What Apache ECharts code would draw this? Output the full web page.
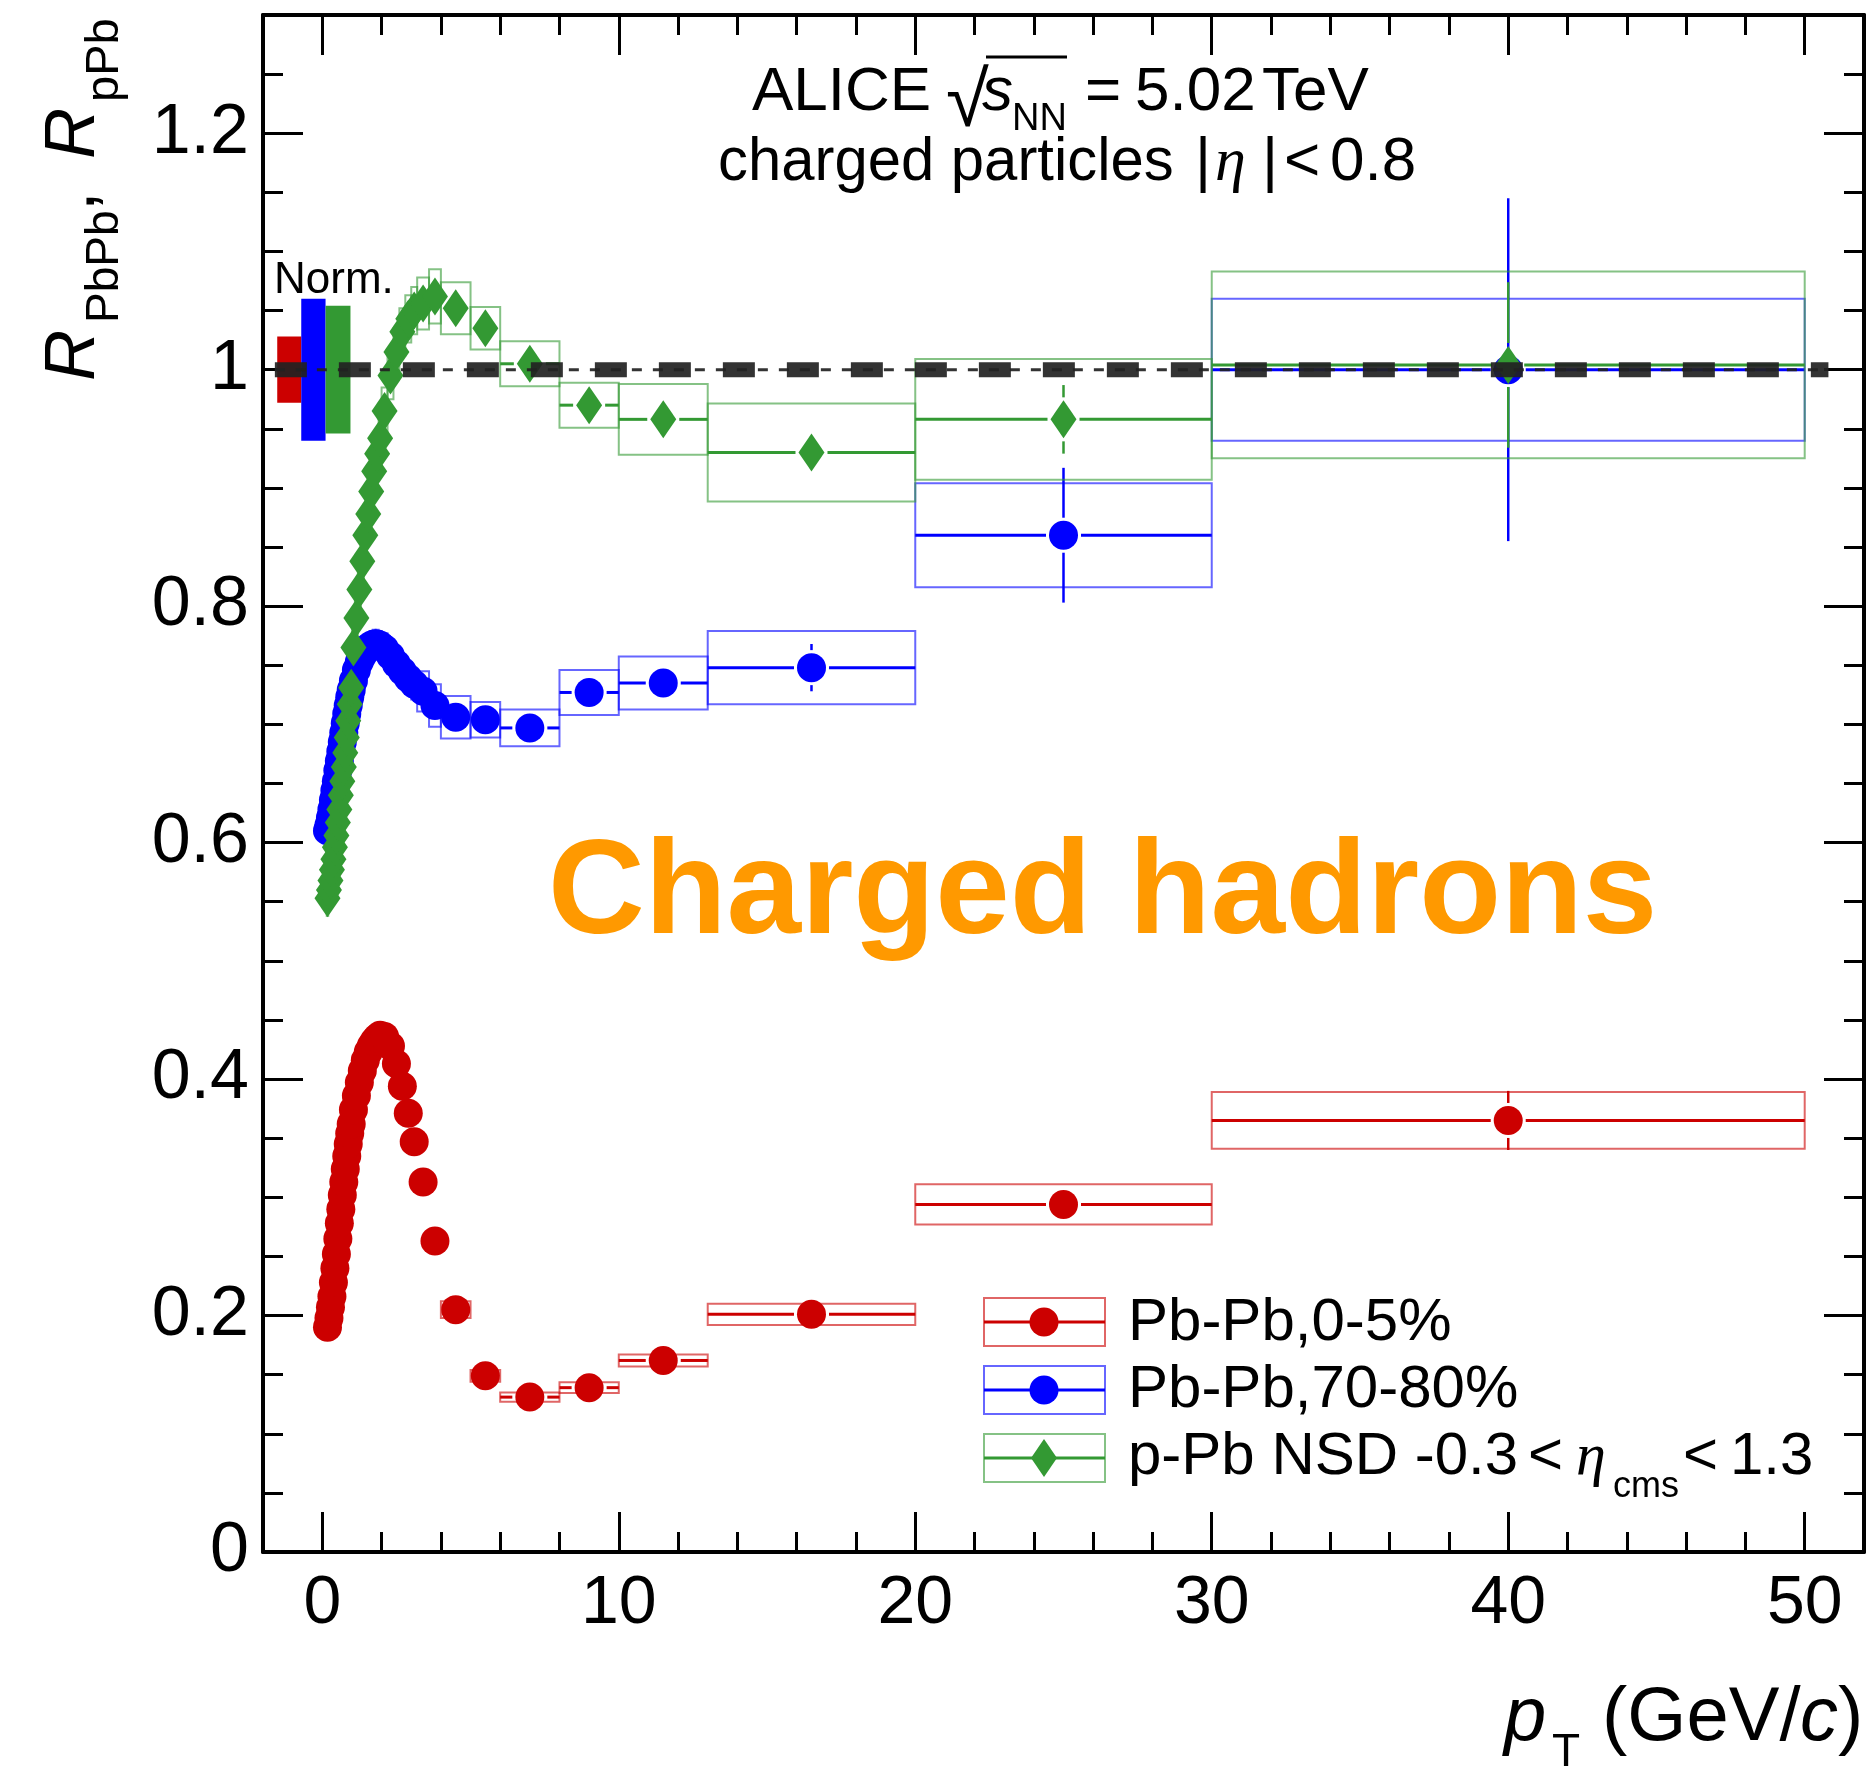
<!DOCTYPE html>
<html><head><meta charset="utf-8">
<script src="https://cdn.jsdelivr.net/npm/echarts@6/dist/echarts.min.js"></script>
<style>html,body{margin:0;padding:0;background:#fff}#c{width:1875px;height:1769px}</style>
</head><body><div id="c"></div>
<script>
// ---------------- DATA ----------------
const binEdges = [0.15,0.2,0.25,0.3,0.35,0.4,0.45,0.5,0.55,0.6,0.65,0.7,0.75,0.8,0.85,0.9,0.95,1.0,
  1.1,1.2,1.3,1.4,1.5,1.6,1.7,1.8,1.9,2.0,2.2,2.4,2.6,2.8,3.0,3.2,3.6,4.0,5.0,6.0,8.0,10,13,20,30,50];

// Pb-Pb 0-5%
const redVal  = [0.190,0.198,0.207,0.216,0.228,0.240,0.252,0.265,0.278,0.290,0.302,0.313,0.324,0.335,0.345,0.354,0.362,
  0.374,0.386,0.397,0.407,0.416,0.423,0.428,0.432,0.435,0.437,
  0.436,0.428,0.413,0.394,0.371,0.347,0.313,0.263,
  0.205,0.149,0.131,0.139,0.162,0.201,0.294,0.365];
const redStat = [0.002,0.002,0.002,0.002,0.002,0.002,0.002,0.002,0.002,0.002,0.002,0.002,0.002,0.002,0.002,0.002,0.002,
  0.002,0.002,0.002,0.002,0.002,0.002,0.002,0.002,0.002,0.002,
  0.002,0.002,0.002,0.002,0.002,0.002,0.002,0.002,
  0.002,0.002,0.002,0.002,0.003,0.004,0.008,0.025];
const redSyst = [0.008,0.008,0.008,0.008,0.008,0.008,0.008,0.008,0.008,0.008,0.008,0.008,0.008,0.008,0.008,0.008,0.008,
  0.009,0.009,0.009,0.009,0.009,0.009,0.009,0.009,0.009,0.009,
  0.010,0.010,0.010,0.010,0.010,0.010,0.009,0.009,
  0.007,0.005,0.004,0.0046,0.005,0.009,0.017,0.024];

// Pb-Pb 70-80%
const blueVal  = [0.610,0.615,0.621,0.628,0.636,0.644,0.652,0.661,0.669,0.677,0.685,0.693,0.701,0.709,0.716,0.723,0.729,
  0.737,0.746,0.753,0.758,0.762,0.765,0.767,0.768,0.768,0.767,
  0.764,0.758,0.751,0.745,0.739,0.734,0.728,0.716,
  0.706,0.704,0.697,0.727,0.735,0.748,0.860,1.000];
const blueStat = [0.003,0.003,0.003,0.003,0.003,0.003,0.003,0.003,0.003,0.003,0.003,0.003,0.003,0.003,0.003,0.003,0.003,
  0.003,0.003,0.003,0.003,0.003,0.003,0.003,0.003,0.003,0.003,
  0.003,0.003,0.003,0.003,0.003,0.003,0.003,0.003,
  0.003,0.003,0.004,0.005,0.008,0.020,0.057,0.145];
const blueSyst = [0.010,0.010,0.010,0.010,0.010,0.010,0.010,0.010,0.010,0.010,0.010,0.010,0.010,0.010,0.010,0.010,0.010,
  0.012,0.012,0.012,0.012,0.012,0.012,0.012,0.012,0.012,0.012,
  0.013,0.013,0.013,0.013,0.013,0.013,0.017,0.018,
  0.018,0.015,0.0155,0.019,0.0225,0.031,0.044,0.060];

// p-Pb NSD
const greenVal  = [0.553,0.560,0.568,0.577,0.586,0.596,0.606,0.617,0.628,0.640,0.652,0.664,0.676,0.689,0.703,0.717,0.731,
  0.765,0.790,0.814,0.838,0.860,0.878,0.897,0.914,0.929,0.942,
  0.965,0.995,1.015,1.032,1.043,1.050,1.056,1.062,
  1.052,1.035,1.005,0.970,0.958,0.930,0.958,1.004];
const greenStat = [0.003,0.003,0.003,0.003,0.003,0.003,0.003,0.003,0.003,0.003,0.003,0.003,0.003,0.003,0.003,0.003,0.003,
  0.003,0.003,0.003,0.003,0.003,0.003,0.003,0.003,0.003,0.003,
  0.003,0.003,0.003,0.003,0.003,0.003,0.003,0.003,
  0.003,0.003,0.003,0.003,0.004,0.006,0.029,0.070];
const greenSyst = [0.015,0.015,0.015,0.015,0.015,0.015,0.015,0.015,0.015,0.015,0.015,0.015,0.015,0.015,0.015,0.015,0.015,
  0.018,0.018,0.018,0.018,0.018,0.018,0.018,0.018,0.018,0.018,
  0.020,0.020,0.020,0.020,0.020,0.020,0.022,0.023,
  0.022,0.018,0.019,0.019,0.030,0.0415,0.051,0.079];

// normalisation uncertainties (boxes at unity)
const normNames = ['Pb-Pb,0-5%','Pb-Pb,70-80%','p-Pb NSD'];
const normLow  = [-1.52,-0.71,0.11];
const normHigh = [-0.71,0.11,0.95];
const normUnc  = [0.028,0.060,0.054];

// reference line at unity
const unityLine = [[-1.6,1],[50.8,1]];

// ticks
const xMajorTicks = [0,10,20,30,40,50];
const xMinorTicks = [2,4,6,8,12,14,16,18,22,24,26,28,32,34,36,38,42,44,46,48];
const yMajorTicks = [0,0.2,0.4,0.6,0.8,1.0,1.2];
const yMinorTicks = [0.05,0.1,0.15,0.25,0.3,0.35,0.45,0.5,0.55,0.65,0.7,0.75,0.85,0.9,0.95,1.05,1.1,1.15,1.25];

// ---------------- STYLE ----------------
const RED='#cc0000', BLUE='#0000ff', GREEN='#339933';
const RED_BOX='rgba(204,0,0,0.6)', BLUE_BOX='rgba(0,0,255,0.6)', GREEN_BOX='rgba(51,153,51,0.6)';
const SANS='"Liberation Sans", Arial, Helvetica, sans-serif';
const SERIF='"Liberation Serif", "Times New Roman", serif';

const centers = binEdges.slice(0,-1).map((e,i)=>(e+binEdges[i+1])/2);

function errData(vals, stat, syst){
  return vals.map((v,i)=>[binEdges[i], binEdges[i+1], v, stat[i], syst[i]]);
}
function errRender(color, boxColor, halfW, halfH){
  return function(params, api){
    const lo=api.value(0), hi=api.value(1), v=api.value(2), st=api.value(3), sy=api.value(4);
    const c=(lo+hi)/2;
    const a=api.coord([lo, v+sy]), b=api.coord([hi, v-sy]);
    const p=api.coord([c, v]);
    const pl=api.coord([lo, v]), ph=api.coord([hi, v]);
    const s1=api.coord([c, v+st]), s2=api.coord([c, v-st]);
    const ch=[{type:'rect', shape:{x:a[0], y:a[1], width:b[0]-a[0], height:b[1]-a[1]},
               style:{fill:'none', stroke:boxColor, lineWidth:2}}];
    const gx=halfW+3, gy=halfH+3;
    if (p[0]-gx > pl[0]) ch.push({type:'line', shape:{x1:pl[0],y1:p[1],x2:p[0]-gx,y2:p[1]}, style:{stroke:color,lineWidth:3}});
    if (ph[0] > p[0]+gx) ch.push({type:'line', shape:{x1:p[0]+gx,y1:p[1],x2:ph[0],y2:p[1]}, style:{stroke:color,lineWidth:3}});
    if (p[1]-gy > s1[1]) ch.push({type:'line', shape:{x1:p[0],y1:s1[1],x2:p[0],y2:p[1]-gy}, style:{stroke:color,lineWidth:2.5}});
    if (s2[1] > p[1]+gy) ch.push({type:'line', shape:{x1:p[0],y1:p[1]+gy,x2:p[0],y2:s2[1]}, style:{stroke:color,lineWidth:2.5}});
    return {type:'group', children:ch};
  };
}
function pts(vals){ return vals.map((v,i)=>[centers[i], v]); }

// text helpers (baseline positioning)
const mctx=document.createElement('canvas').getContext('2d');
function baseOff(font){ mctx.font=font; mctx.textBaseline='middle'; const m=mctx.measureText('H'); return m.actualBoundingBoxDescent||0; }
function T(text, x, base, font, fill, sx){
  const el = {type:'text', x:x, y:base-baseOff(font), silent:true, z:100,
    style:{text:text, font:font, fill:fill||'#000', textAlign:'left', textVerticalAlign:'middle', align:'left', verticalAlign:'middle'}};
  if (sx) el.scaleX = sx;
  return el;
}
function F(size, opts){ return (opts||'')+' '+size+'px '+SANS; }

// ---------------- GRAPHICS (annotations, legend) ----------------
const graphic = [];
// title line 1
graphic.push(T('ALICE', 752, 110, F(62)));
graphic.push(T('\u221A', 946, 126, '78px '+SANS));
graphic.push({type:'line', silent:true, z:100, shape:{x1:986,y1:57,x2:1067,y2:57}, style:{stroke:'#000', lineWidth:3}});
graphic.push(T('s', 982, 110, F(62,'italic')));
graphic.push(T('NN', 1012, 130, F(38)));
graphic.push(T('=', 1085, 110, F(62)));
graphic.push(T('5.02', 1135, 110, F(62)));
graphic.push(T('TeV', 1262, 110, F(62)));
// title line 2
graphic.push(T('charged particles', 718, 180, F(62), '#000', 0.965));
graphic.push(T('|', 1195, 180, F(62)));
graphic.push(T('\u03B7', 1215, 180, 'italic 62px '+SERIF));
graphic.push(T('|', 1262, 180, F(62)));
graphic.push(T('<', 1284, 180, F(62)));
graphic.push(T('0.8', 1330, 180, F(62)));
// Norm.
graphic.push(T('Norm.', 274, 293, F(44)));
// big orange label
graphic.push(T('Charged hadrons', 548, 933, 'bold 134px '+SANS, '#ff9900'));

// legend
const legCols=[RED,BLUE,GREEN], legBox=[RED_BOX,BLUE_BOX,GREEN_BOX], legY=[1322,1390,1458];
for(let i=0;i<3;i++){
  const y=legY[i];
  graphic.push({type:'rect', silent:true, z:100, shape:{x:984,y:y-24,width:121,height:48}, style:{fill:'none',stroke:legBox[i],lineWidth:2}});
  graphic.push({type:'line', silent:true, z:100, shape:{x1:984,y1:y,x2:1105,y2:y}, style:{stroke:legCols[i],lineWidth:3}});
  if(i<2) graphic.push({type:'circle', silent:true, z:101, shape:{cx:1044,cy:y,r:14.5}, style:{fill:legCols[i]}});
  else graphic.push({type:'polygon', silent:true, z:101, shape:{points:[[1044,y-19],[1057,y],[1044,y+19],[1031,y]]}, style:{fill:legCols[i]}});
}
graphic.push(T('Pb-Pb,0-5%', 1128, 1340, F(60)));
graphic.push(T('Pb-Pb,70-80%', 1128, 1407, F(60)));
graphic.push(T('p-Pb NSD -0.3', 1128, 1474, F(60)));
graphic.push(T('<', 1528, 1474, F(60)));
graphic.push(T('\u03B7', 1576, 1474, 'italic 60px '+SERIF));
graphic.push(T('cms', 1613, 1497, F(36)));
graphic.push(T('<', 1683, 1474, F(60)));
graphic.push(T('1.3', 1730, 1474, F(60)));

// x-axis title
graphic.push(T('p', 1504, 1740, F(76,'italic')));
graphic.push(T('T', 1552, 1766, F(46)));
graphic.push(T('(GeV/', 1602, 1740, F(76)));
graphic.push(T('c', 1800, 1740, F(76,'italic')));
graphic.push(T(')', 1838, 1740, F(76)));

// y-axis title (rotated)
graphic.push({type:'group', x:94, y:381, rotation:Math.PI/2, silent:true, z:100, children:[
  T('R', 0, 0, F(71,'italic')),
  T('PbPb', 58, 24, F(46)),
  T(',', 170, 0, F(71)),
  T('R', 222, 0, F(71,'italic')),
  T('pPb', 279, 24, F(47))
]});

// ---------------- AXES ----------------
function xAx(pos, major){
  return {type:'value', min:-2, max:52, position:pos, offset:0,
    axisLine:{show:major, onZero:false, lineStyle:{color:'#000', width:4}},
    axisTick:{show:true, inside:true, length:major?40:20, customValues: major?xMajorTicks:xMinorTicks, lineStyle:{color:'#000', width:3}},
    axisLabel:{show: major && pos==='bottom', customValues:xMajorTicks, fontSize:68, fontFamily:SANS, color:'#000', margin:18},
    splitLine:{show:false}, minorTick:{show:false}, minorSplitLine:{show:false}};
}
function yAx(pos, major){
  return {type:'value', min:0, max:1.3, position:pos, offset:0,
    axisLine:{show:major, onZero:false, lineStyle:{color:'#000', width:4}},
    axisTick:{show:true, inside:true, length:major?40:20, customValues: major?yMajorTicks:yMinorTicks, lineStyle:{color:'#000', width:3}},
    axisLabel:{show: major && pos==='left', customValues:yMajorTicks, fontSize:70, fontFamily:SANS, color:'#000', margin:14},
    splitLine:{show:false}, minorTick:{show:false}, minorSplitLine:{show:false}};
}

const option = {
  animation:false,
  backgroundColor:'#fff',
  grid:{left:263, right:11, top:15, bottom:217, containLabel:false, outerBoundsMode:'none'},
  xAxis:[xAx('bottom',true), xAx('bottom',false), xAx('top',true), xAx('top',false)],
  yAxis:[yAx('left',true), yAx('left',false), yAx('right',true), yAx('right',false)],
  graphic: graphic,
  series:[
    {type:'custom', name:'Norm', z:1, silent:true,
     data: normLow.map((lo,i)=>[lo, normHigh[i], normUnc[i], i]),
     encode:{x:0, y:2},
     renderItem:function(params, api){
       const cols=[RED,BLUE,GREEN];
       const lo=api.value(0), hi=api.value(1), u=api.value(2), k=api.value(3);
       const a=api.coord([lo,1+u]), b=api.coord([hi,1-u]);
       return {type:'rect', shape:{x:a[0],y:a[1],width:b[0]-a[0],height:b[1]-a[1]}, style:{fill:cols[k]}};
     }},
    {type:'custom', name:'Pb-Pb,0-5% syst', z:2, silent:true, data:errData(redVal,redStat,redSyst), encode:{x:0,y:2}, renderItem:errRender(RED,RED_BOX,14.5,14.5)},
    {type:'custom', name:'Pb-Pb,70-80% syst', z:2, silent:true, data:errData(blueVal,blueStat,blueSyst), encode:{x:0,y:2}, renderItem:errRender(BLUE,BLUE_BOX,14.5,14.5)},
    {type:'custom', name:'p-Pb NSD syst', z:2, silent:true, data:errData(greenVal,greenStat,greenSyst), encode:{x:0,y:2}, renderItem:errRender(GREEN,GREEN_BOX,13,19)},
    {type:'scatter', name:'Pb-Pb,0-5%', z:3, silent:true, data:pts(redVal), symbol:'circle', symbolSize:29, itemStyle:{color:RED, opacity:1}},
    {type:'scatter', name:'Pb-Pb,70-80%', z:3, silent:true, data:pts(blueVal), symbol:'circle', symbolSize:29, itemStyle:{color:BLUE, opacity:1}},
    {type:'scatter', name:'p-Pb NSD -0.3<η_cms<1.3', z:3, silent:true, data:pts(greenVal), symbol:'diamond', symbolSize:[26,38], itemStyle:{color:GREEN, opacity:1}},
    {type:'line', name:'unity', z:4, silent:true, data:unityLine, symbol:'none', lineStyle:{color:'#222', width:15, type:[32,32], dashOffset:0, opacity:0.92}},
    {type:'line', name:'unity thin', z:4, silent:true, data:unityLine, symbol:'none', lineStyle:{color:'#222', width:3, type:[10,11], opacity:0.92}}
  ]
};
const chart = echarts.init(document.getElementById('c'), null, {renderer:'canvas'});
chart.setOption(option);
</script></body></html>
